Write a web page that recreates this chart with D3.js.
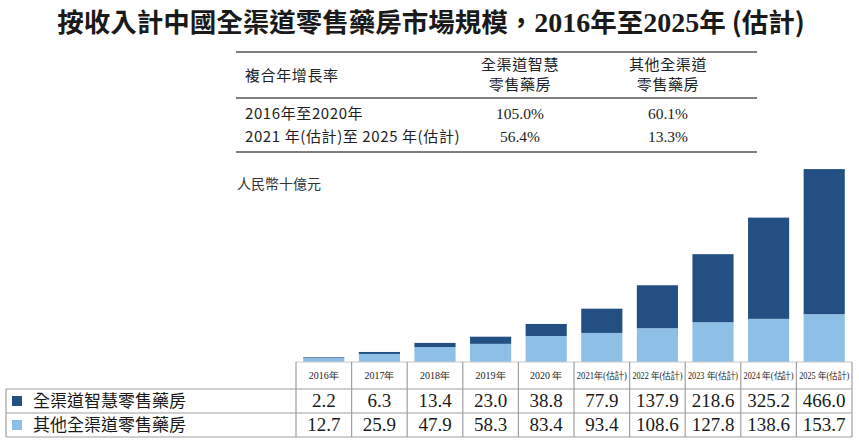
<!DOCTYPE html>
<html><head><meta charset="utf-8">
<script src="https://cdn.jsdelivr.net/npm/d3@7"></script>
<style>
html,body{margin:0;padding:0;background:#fff;}
svg{display:block;}
</style></head>
<body>
<svg id="c" width="859" height="443"></svg>
<script>
const years = ["2016年","2017年","2018年","2019年","2020 年","2021年(估計)","2022 年(估計)","2023 年(估計)","2024 年(估計)","2025 年(估計)"];
const smart = [2.2,6.3,13.4,23.0,38.8,77.9,137.9,218.6,325.2,466.0];
const other = [12.7,25.9,47.9,58.3,83.4,93.4,108.6,127.8,138.6,153.7];
const seriesNames = ["全渠道智慧零售藥房","其他全渠道零售藥房"];
const cagrHead = ["複合年增長率","全渠道智慧|零售藥房","其他全渠道|零售藥房"];
const cagrPeriods = ["2016年至2020年","2021 年(估計)至 2025 年(估計)"];
const cagrSmart = ["105.0%","56.4%"];
const cagrOther = ["60.1%","13.3%"];

const DARK="#234f83", LIGHT="#8ebfe6";
const SANS="'Noto Sans CJK TC','Noto Sans CJK SC',sans-serif";
const SERIF="'Liberation Serif','Times New Roman',serif";
const svg=d3.select("#c");

// Title
const t=svg.append("text").attr("x",431).attr("y",32).attr("text-anchor","middle")
  .attr("font-size",26.5).attr("font-weight","bold").attr("fill","#1a1a1a").attr("font-family",SANS);
t.append("tspan").text("按收入計中國全渠道零售藥房市場規模，");
t.append("tspan").attr("font-family",SERIF).attr("font-size",28).text("2016");
t.append("tspan").text("年至");
t.append("tspan").attr("font-family",SERIF).attr("font-size",28).text("2025");
t.append("tspan").text("年 (估計)");

// CAGR table
const cx=[245,520,668];
const g1=svg.append("g");
[52,98,152].forEach(y=>g1.append("line").attr("x1",236).attr("x2",757).attr("y1",y).attr("y2",y)
  .attr("stroke","#555").attr("stroke-width",1.5));
g1.append("text").attr("x",cx[0]).attr("y",81).attr("font-family",SANS).attr("font-size",15).attr("letter-spacing",0.6).attr("fill","#222").text(cagrHead[0]);
[1,2].forEach(i=>{
  cagrHead[i].split("|").forEach((s,j)=>g1.append("text").attr("x",cx[i]).attr("y",70+j*20)
    .attr("text-anchor","middle").attr("font-family",SANS).attr("font-size",15).attr("letter-spacing",0.6).attr("fill","#222").text(s));
});
cagrPeriods.forEach((p,i)=>{
  const y=119+i*23;
  g1.append("text").attr("x",cx[0]).attr("y",y).attr("font-family",SANS).attr("font-size",15).attr("letter-spacing",0.6).attr("fill","#222").text(p);
  g1.append("text").attr("x",cx[1]).attr("y",y).attr("text-anchor","middle").attr("font-family",SERIF).attr("font-size",15.5).attr("fill","#222").text(cagrSmart[i]);
  g1.append("text").attr("x",cx[2]).attr("y",y).attr("text-anchor","middle").attr("font-family",SERIF).attr("font-size",15.5).attr("fill","#222").text(cagrOther[i]);
});

// Unit
svg.append("text").attr("x",237).attr("y",189).attr("font-family",SANS).attr("font-size",14).attr("fill","#333").text("人民幣十億元");

// Scales
const x=d3.scaleBand().domain(years).range([296,852]).paddingInner(0.26).paddingOuter(0.13);
const y=d3.scaleLinear().domain([0,620]).range([362,169]);
const step=x.step(), off=x.paddingInner()*step/2;

// Bars
const gb=svg.append("g");
years.forEach((yr,i)=>{
  gb.append("rect").attr("x",x(yr)).attr("width",x.bandwidth())
    .attr("y",y(other[i])).attr("height",y(0)-y(other[i])).attr("fill",LIGHT);
  gb.append("rect").attr("x",x(yr)).attr("width",x.bandwidth())
    .attr("y",y(other[i]+smart[i])).attr("height",y(other[i])-y(other[i]+smart[i])).attr("fill",DARK);
});

// Data table
const gt=svg.append("g");
const L=296,R=852,T=362,R1=389,R2=413,B=437;
const lc="#a0a0a0";
gt.append("line").attr("x1",L).attr("x2",R).attr("y1",T).attr("y2",T).attr("stroke","#c8c8c8").attr("stroke-width",1);
[R1,R2,B].forEach(yy=>gt.append("line").attr("x1",6).attr("x2",R).attr("y1",yy).attr("y2",yy).attr("stroke",lc).attr("stroke-width",1.2));
gt.append("line").attr("x1",6).attr("x2",6).attr("y1",R1).attr("y2",B).attr("stroke",lc).attr("stroke-width",1.2);
years.forEach((yr,i)=>{
  const xl=x(yr)-off;
  gt.append("line").attr("x1",xl).attr("x2",xl).attr("y1",T).attr("y2",B).attr("stroke",lc).attr("stroke-width",1.2);
});
gt.append("line").attr("x1",R).attr("x2",R).attr("y1",T).attr("y2",B).attr("stroke",lc).attr("stroke-width",1.2);

years.forEach((yr,i)=>{
  const c=x(yr)+x.bandwidth()/2;
  const est=yr.indexOf("估")>=0;
  const tx=gt.append("text").attr("x",c).attr("y",379).attr("text-anchor","middle")
    .attr("font-family",SERIF).attr("font-size",est?9.5:10).attr("fill","#222").text(yr);
  if(est){tx.attr("textLength",50).attr("lengthAdjust","spacingAndGlyphs");}
  gt.append("text").attr("x",c).attr("y",407).attr("text-anchor","middle")
    .attr("font-family",SERIF).attr("font-size",19).attr("fill","#1a1a1a").text(smart[i].toFixed(1));
  gt.append("text").attr("x",c).attr("y",431).attr("text-anchor","middle")
    .attr("font-family",SERIF).attr("font-size",19).attr("fill","#1a1a1a").text(other[i].toFixed(1));
});

// Legend
[DARK,LIGHT].forEach((col,i)=>{
  const yy=[R1,R2][i];
  gt.append("rect").attr("x",12).attr("y",yy+7).attr("width",10).attr("height",10).attr("fill",col);
  gt.append("text").attr("x",33).attr("y",yy+18).attr("font-family",SANS).attr("font-size",17).attr("fill","#1a1a1a").text(seriesNames[i]);
});
</script>
</body></html>
